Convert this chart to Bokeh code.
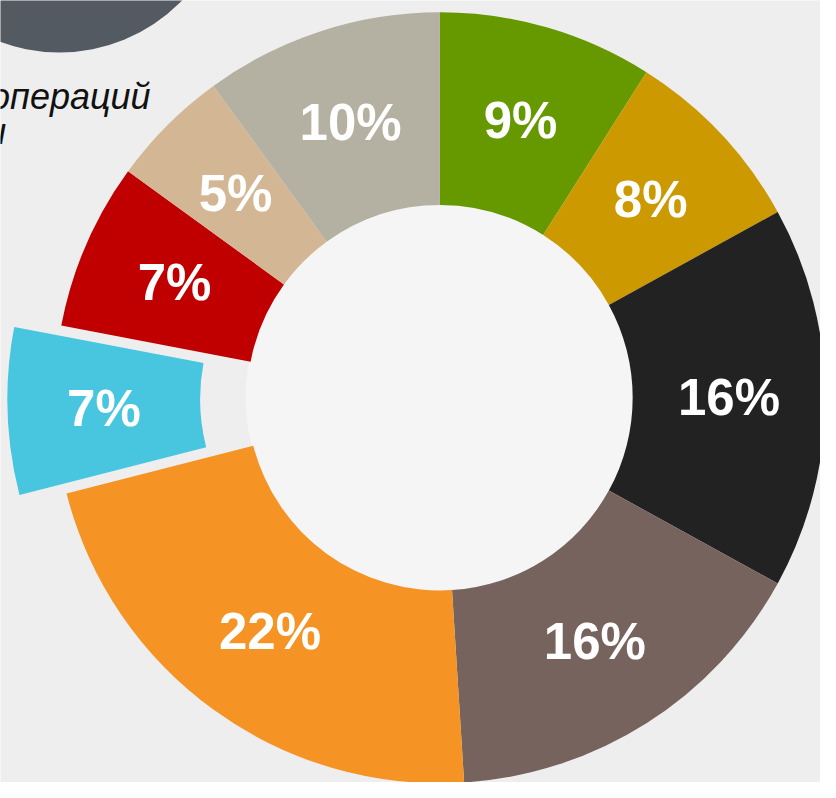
import math
from bokeh.plotting import figure
from bokeh.models import ColumnDataSource, Range1d
from bokeh.core.properties import value
from bokeh.embed import file_html
from bokeh.resources import INLINE

# ---- data ----
labels = ["9%", "8%", "16%", "16%", "22%", "7%", "7%", "5%", "10%"]
shares = [9, 8, 16, 16, 22, 7, 7, 5, 10]
colors = ["#669900", "#cc9900", "#222222", "#77635d", "#f59324",
          "#48c5df", "#c00000", "#d3b794", "#b5b1a2"]
exploded_index = 5
caption_line1 = "операций"
caption_line2 = "и"

# ---- layout constants ----
W, H = 820, 782
S = W / 836.0                    # scale from the 836-px reference layout
PX = 393.0 * S                   # pixels per data unit (outer radius = 1)
CX_PX, CY_PX = 448.0 * S, 405.0 * S
R_OUT, R_IN = 1.0, 0.5
EXPLODE = 48.0 * S / PX
BG = "#eeeeee"
HOLE = "#f5f5f5"
LABEL_SIZE = "%dpx" % round(52 * S)
CAPTION_SIZE = "%dpx" % round(37 * S)

def to_data(xp, yp):
    return (xp * S - CX_PX) / PX, (CY_PX - yp * S) / PX

x0 = -CX_PX / PX
x1 = (W - CX_PX) / PX
y1 = CY_PX / PX
y0 = (CY_PX - H) / PX

total = float(sum(shares))
xs, ys, starts, ends, lx, ly = [], [], [], [], [], []
cum = 0.0
for i, s in enumerate(shares):
    a_start = math.pi / 2 - 2 * math.pi * cum / total
    cum += s
    a_end = math.pi / 2 - 2 * math.pi * cum / total
    mid = (a_start + a_end) / 2
    d = EXPLODE if i == exploded_index else 0.0
    ox, oy = d * math.cos(mid), d * math.sin(mid)
    xs.append(ox)
    ys.append(oy)
    starts.append(a_start)
    ends.append(a_end)
    rl = (R_OUT + R_IN) / 2
    lx.append(ox + rl * math.cos(mid))
    ly.append(oy + rl * math.sin(mid))

src = ColumnDataSource(dict(x=xs, y=ys, start=starts, end=ends, color=colors,
                            lx=lx, ly=ly, label=labels))

p = figure(width=W, height=H, output_backend="svg", toolbar_location=None,
           x_range=Range1d(x0, x1), y_range=Range1d(y0, y1),
           min_border=0, background_fill_color=BG, border_fill_color=BG)
p.axis.visible = False
p.grid.visible = False
p.outline_line_color = None

# lighter centre of the donut
p.circle(x=[0], y=[0], radius=R_IN + 0.004, fill_color=HOLE, line_color=None)

# decorative dark circle (top-left)
cx, cy = to_data(60, -121)
p.circle(x=[cx], y=[cy], radius=174.0 * S / PX,
         fill_color="#545a62", line_color=None)

# caption text (partially cut off at the left edge, as in the reference)
tx, ty = to_data(153, 98)
p.text(x=[tx], y=[ty], text=[caption_line1],
       text_font=value("Liberation Sans"), text_font_style="italic",
       text_font_size=CAPTION_SIZE, text_color="#111111",
       text_align="right", text_baseline="alphabetic")
tx2, ty2 = to_data(6, 134)
p.text(x=[tx2], y=[ty2], text=[caption_line2],
       text_font=value("Liberation Sans"), text_font_style="italic",
       text_font_size=CAPTION_SIZE, text_color="#111111",
       text_align="right", text_baseline="alphabetic")

p.annular_wedge(x="x", y="y", inner_radius=R_IN, outer_radius=R_OUT,
                start_angle="start", end_angle="end", direction="clock",
                fill_color="color", line_color=None, source=src)

p.text(x="lx", y="ly", text="label", source=src,
       text_font=value("Liberation Sans"), text_font_style="bold",
       text_font_size=LABEL_SIZE, text_color="white",
       text_align="center", text_baseline="middle")

open("out.html", "w").write(file_html(p, INLINE))
